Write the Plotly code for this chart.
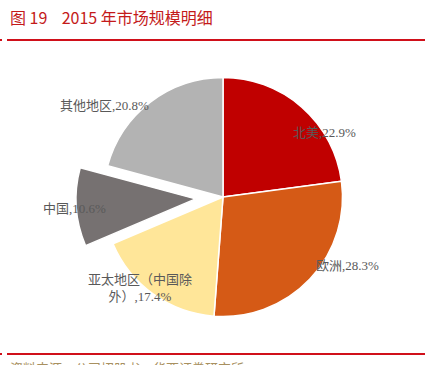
import plotly.graph_objects as go

# Data
regions = ["北美", "欧洲", "亚太地区（中国除外）", "中国", "其他地区"]
shares = [22.9, 28.3, 17.4, 10.6, 20.8]
label_texts = ["北美,22.9%", "欧洲,28.3%", "亚太地区（中国除<br>外）,17.4%", "中国,10.6%", "其他地区,20.8%"]
pulls = [0, 0, 0, 0.23, 0]
colors = ["#C00000", "#D55A16", "#FFE699", "#767171", "#B3B3B3"]

W, H = 432, 365

def px(x):
    return x / W

def py(y):
    return 1 - y / H

fig = go.Figure()
fig.add_trace(go.Pie(
    labels=regions,
    values=shares,
    sort=False,
    direction="clockwise",
    rotation=0,
    pull=pulls,
    marker=dict(colors=colors, line=dict(color="white", width=1.5)),
    textinfo="none",
    hoverinfo="label+percent",
    showlegend=False,
    domain=dict(x=[px(223 - 147), px(223 + 147)], y=[1 - (197 + 147) / H, 1 - (197 - 147) / H]),
))

label_pos = [(324, 132), (347, 265), (140, 288), (74, 208), (104, 105)]
lab_font = dict(family="Liberation Serif, Noto Sans CJK SC, serif", size=13, color="#595959")
for t, (x, y) in zip(label_texts, label_pos):
    fig.add_annotation(x=px(x), y=py(y), xref="paper", yref="paper", text=t,
                       showarrow=False, font=lab_font, xanchor="center", yanchor="middle",
                       align="center")

# Title
fig.add_annotation(x=px(8), y=py(17), xref="paper", yref="paper",
                   text="图 19&nbsp;&nbsp;&nbsp;&nbsp;2015 年市场规模明细", showarrow=False,
                   font=dict(family="Noto Sans CJK SC, sans-serif", size=16, color="#C41A1A"),
                   xanchor="left", yanchor="middle")
# Footer
fig.add_annotation(x=px(8), y=py(356), xref="paper", yref="paper",
                   text="资料来源：公司招股书，华西证券研究所", showarrow=False,
                   font=dict(family="Noto Sans CJK SC, sans-serif", size=13, color="#A89060"),
                   xanchor="left", yanchor="top")

shapes = [
    dict(type="line", xref="paper", yref="paper", x0=px(7), x1=px(425), y0=py(40), y1=py(40),
         line=dict(color="#D0101A", width=2)),
    dict(type="rect", xref="paper", yref="paper", x0=0, x1=px(2), y0=py(41), y1=py(39),
         line=dict(width=0), fillcolor="#D0101A"),
    dict(type="line", xref="paper", yref="paper", x0=px(7), x1=px(425), y0=py(354), y1=py(354),
         line=dict(color="#D0101A", width=2)),
    dict(type="rect", xref="paper", yref="paper", x0=0, x1=px(2), y0=py(355), y1=py(353),
         line=dict(width=0), fillcolor="#D0101A"),
]

fig.update_layout(
    width=W, height=H,
    margin=dict(l=0, r=0, t=0, b=0),
    paper_bgcolor="white", plot_bgcolor="white",
    shapes=shapes,
)

fig.write_html("out.html", config={"displayModeBar": False},
               post_script="document.body.style.margin='0';document.body.style.overflow='hidden';")
